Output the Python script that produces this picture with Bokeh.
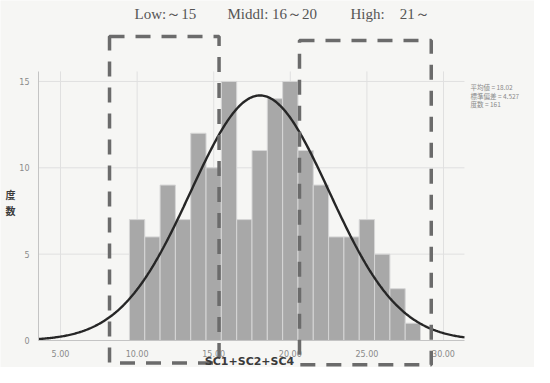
import numpy as np
from bokeh.plotting import figure
from bokeh.models import BoxAnnotation, Label, FixedTicker, Range1d, NumeralTickFormatter
from bokeh.embed import file_html
from bokeh.resources import INLINE

# ---- data ----
bin_centers = list(range(10, 29))
counts = [7, 6, 9, 7, 12, 10, 15, 7, 11, 14, 15, 11, 9, 6, 6, 7, 5, 3, 1]
bin_width = 1.0
mean_val = 18.02
sd_val = 4.527
n_total = 161
x_ticks = [5, 10, 15, 20, 25, 30]
y_ticks = [0, 5, 10, 15]
low_box = dict(left=8.2, right=15.35, bottom=-1.3, top=17.6)
high_box = dict(left=20.6, right=29.2, bottom=-1.41, top=17.37)
title_parts = ["Low:～15", "Middl: 16～20", "High:\u300021～"]
stats_lines = ["平均値 = 18.02", "標準偏差 = 4.527", "度数 = 161"]
x_title = "SC1+SC2+SC4"
y_title = "度\n数"

BG = "#f6f6f4"
# plot area (axes extent)
AX0, AX1 = 3.564, 31.37
AY0, AY1 = 0.0, 15.58
# whole canvas is the frame so that boxes/labels outside the axes are not clipped
p = figure(width=534, height=367, output_backend="svg", toolbar_location=None,
           x_range=Range1d(1.0836, 35.94), y_range=Range1d(-1.5634, 19.687),
           min_border=0, min_border_left=0, min_border_right=0,
           min_border_top=0, min_border_bottom=0)
p.title.visible = False
p.background_fill_color = BG
p.border_fill_color = BG
p.outline_line_color = None
p.grid.visible = False

# axes placed at the plot-area edges
p.xaxis.fixed_location = AY0
p.yaxis.fixed_location = AX0
p.xaxis.bounds = (AX0, AX1)
p.yaxis.bounds = (AY0, AY1)
p.xaxis.ticker = FixedTicker(ticks=x_ticks)
p.yaxis.ticker = FixedTicker(ticks=y_ticks)
p.xaxis.formatter = NumeralTickFormatter(format="0.00")
for ax in (p.xaxis, p.yaxis):
    ax.axis_line_color = "#c4c4c4"
    ax.axis_line_width = 1
    ax.major_tick_line_color = None
    ax.minor_tick_line_color = None
    ax.major_label_text_font = "DejaVu Sans"
    ax.major_label_text_font_size = "8px"
    ax.major_label_text_color = "#8a8a8a"
p.xaxis.major_label_standoff = 4
p.yaxis.major_label_standoff = 3

# grid lines within the plot area, at the tick values
gx = x_ticks
p.segment(x0=gx, x1=gx, y0=[AY0] * len(gx), y1=[AY1] * len(gx),
          line_color="#e0e0e0", line_width=1)
gy = [t for t in y_ticks if t > 0]
p.segment(x0=[AX0] * len(gy), x1=[AX1] * len(gy), y0=gy, y1=gy,
          line_color="#e0e0e0", line_width=1)

# histogram bars
p.vbar(x=bin_centers, width=bin_width, top=counts, bottom=0,
       fill_color="#a8a8a8", line_color="#d6d6d6", line_width=1)

# fitted normal curve
xs = np.linspace(AX0, AX1, 400)
ys = n_total * bin_width * np.exp(-0.5 * ((xs - mean_val) / sd_val) ** 2) / (sd_val * np.sqrt(2 * np.pi))
p.line(xs, ys, line_color="#262626", line_width=2.4)

# dashed group boxes
for b in (low_box, high_box):
    p.add_layout(BoxAnnotation(left=b["left"], right=b["right"], bottom=b["bottom"], top=b["top"],
                               fill_color=None, fill_alpha=0, line_color="#6b6b6b", line_alpha=1,
                               line_width=3.5, line_dash="15 11"))

# header text
title_x = [9.83, 15.90, 23.93]
for t, tx in zip(title_parts, title_x):
    p.add_layout(Label(x=tx, y=18.93, text=t, text_font="Liberation Serif",
                       text_font_size="15px", text_color="#555555",
                       text_align="left", text_baseline="middle"))

# stats text
for s, sy in zip(stats_lines, [14.65, 14.17, 13.69]):
    p.add_layout(Label(x=31.76, y=sy, text=s, text_font="Noto Sans CJK JP",
                       text_font_size="6.5px", text_color="#8a8a8a",
                       text_align="left", text_baseline="middle"))

# axis titles
p.add_layout(Label(x=17.34, y=-1.2, text=x_title, text_font="DejaVu Sans",
                   text_font_style="bold", text_font_size="11px", text_color="#3a3a3a",
                   text_align="center", text_baseline="middle"))
p.add_layout(Label(x=1.736, y=7.99, text=y_title, text_font="Noto Sans CJK JP",
                   text_font_style="bold", text_font_size="10px", text_color="#3a3a3a",
                   text_line_height=1.05, text_align="center", text_baseline="middle"))

html = file_html(p, INLINE)
html = html.replace("<body>", '<body style="background:%s">' % BG, 1)
open("out.html", "w").write(html)
